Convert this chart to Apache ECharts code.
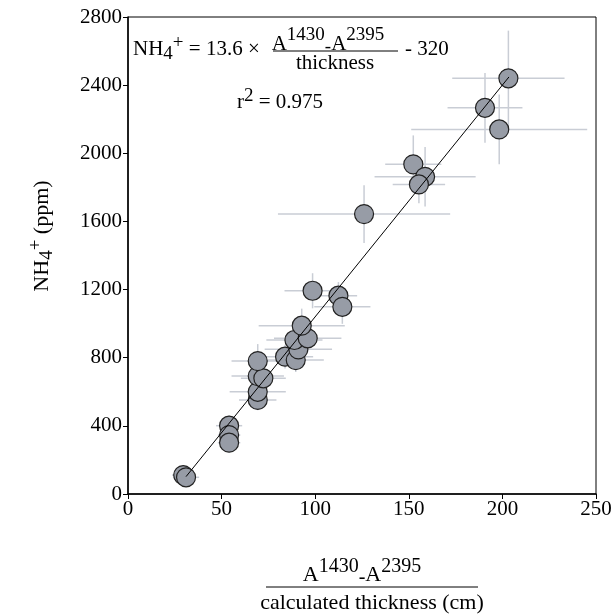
<!DOCTYPE html>
<html>
<head>
<meta charset="utf-8">
<script src="https://cdn.jsdelivr.net/npm/echarts@6/dist/echarts.min.js"></script>
<style>
  html, body { margin: 0; background: #fff; }
  #chart { width: 615px; height: 614px; }
</style>
</head>
<body>
<div id="chart"></div>
<script>
// x: (A1430 - A2395) / calculated thickness, y: NH4+ (ppm)
const thickness = [29.5, 31, 54, 54, 54, 69.3, 69.3, 69.3, 72.3, 69.3, 83.9, 89.6, 91, 88.9, 96, 92.8, 98.6, 112.4, 114.5, 126.1, 152.4, 158.7, 155.4, 190.7, 198.3, 203.2];
const nh4 = [111, 98, 401, 346, 301, 552, 600, 692, 679, 780, 806, 786, 849, 904, 914, 988, 1193, 1164, 1099, 1643, 1935, 1862, 1817, 2267, 2140, 2440];
// error bar half-widths
const errThickness = [6, 7, 7, 6, 6, 10, 15, 14, 12, 14, 15, 15, 18, 15, 18, 23, 15, 10, 15, 46, 15, 27, 14, 20, 47, 30];
const errNh4 = [30, 35, 60, 50, 50, 60, 80, 80, 70, 100, 70, 70, 80, 90, 80, 100, 103, 80, 100, 170, 170, 175, 110, 205, 205, 280];
// regression NH4+ = 13.6 x - 320, end points
const fitLine = [[31, 102], [203.5, 2448]];

const serif = 'Liberation Serif';
const chart = echarts.init(document.getElementById('chart'));

const points = thickness.map((x, i) => [x, nh4[i], errThickness[i], errNh4[i]]);

function renderErr(params, api) {
  const x = api.value(0), y = api.value(1), ex = api.value(2), ey = api.value(3);
  const l = api.coord([x - ex, y]), r = api.coord([x + ex, y]);
  const t = api.coord([x, y + ey]), b = api.coord([x, y - ey]);
  const st = { stroke: '#c9cdd5', lineWidth: 1.5 };
  return {
    type: 'group',
    children: [
      { type: 'line', shape: { x1: l[0], y1: l[1], x2: r[0], y2: r[1] }, style: st },
      { type: 'line', shape: { x1: t[0], y1: t[1], x2: b[0], y2: b[1] }, style: st }
    ]
  };
}

// rich text styles: n = normal, sup / sub = raised / lowered, d = small dash
function richFor(size, small, lh) {
  return {
    n: { fontFamily: serif, fontSize: size, lineHeight: lh, verticalAlign: 'middle', color: '#000' },
    sup: { fontFamily: serif, fontSize: small, lineHeight: small, verticalAlign: 'top', color: '#000' },
    sub: { fontFamily: serif, fontSize: small, lineHeight: small, verticalAlign: 'bottom', color: '#000' },
    d: { fontFamily: serif, fontSize: small, lineHeight: small, verticalAlign: 'middle', color: '#000', padding: [6, 0, 0, 0] }
  };
}
const richEq = richFor(21, 19, 30);
const richNum = richFor(21, 19, 36);
const richAxNum = richFor(22, 20, 36);
const richAx = richFor(22, 19, 30);

function txt(x, y, text, r, align, rot) {
  return {
    type: 'text', x: x, y: y, rotation: rot || 0, z: 10,
    style: { text: text, rich: r, align: align || 'center', verticalAlign: 'middle', fill: '#000', font: '21px ' + serif }
  };
}
function hline(x1, x2, y) {
  return { type: 'line', z: 10, shape: { x1: x1, y1: y, x2: x2, y2: y }, style: { stroke: '#000', lineWidth: 1 } };
}

const option = {
  animation: false,
  backgroundColor: '#fff',
  grid: { left: 128, right: 19, top: 17, bottom: 120, show: true, borderColor: '#000', borderWidth: 1 },
  xAxis: {
    type: 'value', min: 0, max: 250, interval: 50,
    axisLine: { show: true, onZero: false, lineStyle: { color: '#000', width: 1.5 } },
    axisTick: { show: true, length: 5, lineStyle: { color: '#000' } },
    axisLabel: { color: '#000', fontFamily: serif, fontSize: 21, margin: 5 },
    splitLine: { show: false }
  },
  yAxis: {
    type: 'value', min: 0, max: 2800, interval: 400,
    axisLine: { show: true, onZero: false, lineStyle: { color: '#000', width: 1.5 } },
    axisTick: { show: true, length: 5, lineStyle: { color: '#000' } },
    axisLabel: { color: '#000', fontFamily: serif, fontSize: 21, margin: 6, formatter: v => String(v) },
    splitLine: { show: false }
  },
  series: [
    { type: 'custom', renderItem: renderErr, data: points, encode: { x: 0, y: 1 }, z: 1 },
    {
      type: 'scatter', data: points.map(p => [p[0], p[1]]), symbolSize: 19, z: 2,
      itemStyle: { color: '#979ca6', borderColor: '#222', borderWidth: 1.2, opacity: 1 }
    },
    { type: 'line', data: fitLine, symbol: 'none', z: 3, lineStyle: { color: '#000', width: 1 } }
  ],
  graphic: [
    // equation
    txt(133, 49, '{n|NH}{sub|4}{sup|+}{n| = 13.6 \u00d7}', richEq, 'left'),
    txt(328, 44, '{n|A}{sup|1430}{d|-}{n|A}{sup|2395}', richNum),
    hline(273, 398, 51),
    txt(335, 63, '{n|thickness}', richEq),
    txt(405, 49, '{n|- 320}', richEq, 'left'),
    txt(237, 102, '{n|r}{sup|2}{n| = 0.975}', richEq, 'left'),
    // x axis title
    txt(362, 575, '{n|A}{sup|1430}{d|-}{n|A}{sup|2395}', richAxNum),
    hline(266, 478, 587),
    txt(372, 603, '{n|calculated thickness (cm)}', richAx),
    // y axis title
    txt(42, 236, '{n|NH}{sub|4}{sup|+}{n| (ppm)}', richAx, 'center', Math.PI / 2)
  ]
};

chart.setOption(option);
</script>
</body>
</html>
